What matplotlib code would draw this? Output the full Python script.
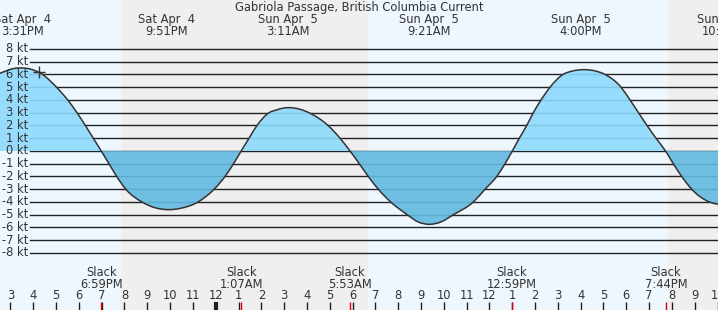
import matplotlib
matplotlib.use("Agg")
import matplotlib.pyplot as plt
from matplotlib.path import Path
from matplotlib.patches import PathPatch

# ---- data (hours after midnight, Sat Apr 4) ----
curve_hours = [14.544, 14.836, 15.128, 15.509, 15.859, 16.268, 16.407, 17.021, 17.512, 17.920,
               18.284, 18.634, 18.981,
               19.323, 19.660, 20.060, 20.769, 21.339, 21.909, 22.479, 23.224, 23.930, 24.408,
               24.781, 25.118,
               25.460, 25.811, 26.337, 26.688, 26.951, 27.183, 27.433, 27.696, 28.091, 28.924,
               29.450, 29.888,
               30.296, 30.690, 31.129, 31.672, 32.400, 32.869, 33.365, 33.878, 34.417, 35.294,
               35.807, 36.320, 36.683, 37.003,
               37.310, 37.635, 37.924, 38.262, 38.656, 39.226, 39.665, 40.147, 40.629, 41.068,
               41.769, 42.164, 42.536, 42.909, 43.303, 43.720,
               44.062, 44.430, 44.868, 45.640, 46.021]
curve_knots = [6.09, 6.30, 6.46, 6.51, 6.43, 6.15, 6.00, 5.00, 4.00, 3.00,
               2.00, 1.00, 0.00,
               -1.00, -2.00, -3.00, -4.00, -4.45, -4.60, -4.49, -4.00, -3.00, -2.00,
               -1.00, 0.00,
               1.00, 2.00, 3.00, 3.23, 3.36, 3.40, 3.37, 3.27, 3.00, 2.00,
               1.00, 0.00,
               -1.00, -2.00, -3.00, -4.00, -5.00, -5.56, -5.75, -5.56, -5.00, -4.00,
               -3.00, -2.00, -1.00, 0.00,
               1.00, 2.00, 3.00, 4.00, 5.00, 6.00, 6.28, 6.38, 6.28, 6.00,
               5.00, 4.00, 3.00, 2.00, 1.00, 0.00,
               -1.00, -2.00, -3.00, -4.00, -4.18]

event_hours = [15.517, 21.850, 27.183, 33.350, 40.000, 46.417]
event_dates = ["Sat Apr  4", "Sat Apr  4", "Sun Apr  5", "Sun Apr  5", "Sun Apr  5", "Sun Apr  5"]
event_times = ["3:31PM", "9:51PM", "3:11AM", "9:21AM", "4:00PM", "10:25PM"]

slack_hours = [18.983, 25.117, 29.883, 36.983, 43.733]
slack_times = ["6:59PM", "1:07AM", "5:53AM", "12:59PM", "7:44PM"]

marker_hour = 16.25
marker_knots = 6.17

hour_ticks = list(range(15, 47))
hour_labels = [str((h % 12) or 12) for h in hour_ticks]
midnight = 24

daylight = [(14.544, 19.849), (30.664, 43.840)]
night = [(19.849, 30.664), (43.840, 46.030)]

knot_levels = list(range(-8, 9))
title = "Gabriola Passage, British Columbia Current"

# ---- figure ----
W, H = 718, 310
fig = plt.figure(figsize=(W / 100, H / 100), dpi=100)
ax = fig.add_axes([0, 0, 1, 1])
ax.set_xlim(14.544, 46.020)
ax.set_ylim(-12.47, 11.84)
ax.axis("off")

day_c = "#eef7fe"
night_c = "#efefef"
pos_c = "#8ed9fd"
neg_c = "#62b9e0"
txt_c = "#333333"
fs = 8.3

for a, b in daylight:
    ax.axvspan(a, b, color=day_c, lw=0, zorder=0)
for a, b in night:
    ax.axvspan(a, b, color=night_c, lw=0, zorder=0)

for k in knot_levels:
    ax.axhline(k, xmin=30 / W, xmax=1, color="#222222", lw=1.0, zorder=1)
    ax.text(28 / W, k, f"{k} kt", transform=ax.get_yaxis_transform(),
            ha="right", va="center", fontsize=fs, color=txt_c, zorder=5)

# smooth (cubic Bezier) rendering through the read points
xs, ys = curve_hours, curve_knots
n = len(xs)
slopes = []
for i in range(n):
    if i == 0:
        slopes.append((ys[1] - ys[0]) / (xs[1] - xs[0]))
    elif i == n - 1:
        slopes.append((ys[-1] - ys[-2]) / (xs[-1] - xs[-2]))
    else:
        h0 = xs[i] - xs[i - 1]
        h1 = xs[i + 1] - xs[i]
        d0 = (ys[i] - ys[i - 1]) / h0
        d1 = (ys[i + 1] - ys[i]) / h1
        slopes.append((h1 * d0 + h0 * d1) / (h0 + h1))


def curve_part(i0, i1):
    verts = [(xs[i0], ys[i0])]
    codes = [Path.MOVETO]
    for i in range(i0, i1):
        d = (xs[i + 1] - xs[i]) / 3.0
        verts += [(xs[i] + d, ys[i] + slopes[i] * d),
                  (xs[i + 1] - d, ys[i + 1] - slopes[i + 1] * d),
                  (xs[i + 1], ys[i + 1])]
        codes += [Path.CURVE4] * 3
    return verts, codes


zero_idx = [i for i, v in enumerate(ys) if v == 0]
bounds = [0] + zero_idx + [n - 1]
for i0, i1 in zip(bounds[:-1], bounds[1:]):
    if i1 <= i0:
        continue
    v, c = curve_part(i0, i1)
    v = v + [(xs[i1], 0), (xs[i0], 0), (xs[i0], 0)]
    c = c + [Path.LINETO, Path.LINETO, Path.CLOSEPOLY]
    mid = ys[(i0 + i1) // 2]
    col = pos_c if mid > 0 else neg_c
    ax.add_patch(PathPatch(Path(v, c), facecolor=col, edgecolor="none", alpha=0.9, zorder=2))

v, c = curve_part(0, n - 1)
ax.add_patch(PathPatch(Path(v, c), facecolor="none", edgecolor="#333333", lw=1.1, zorder=3))
ax.plot([marker_hour], [marker_knots], marker="+", ms=8, mew=1.0, color="#333333", zorder=4)

tx = ax.get_xaxis_transform()
ax.text(0.5, 1 - 8 / H, title, transform=ax.transAxes, ha="center", va="center",
        fontsize=fs, color=txt_c)
for h, d, t in zip(event_hours, event_dates, event_times):
    ax.text(h, 1 - 20 / H, d, transform=tx, ha="center", va="center", fontsize=fs, color=txt_c)
    ax.text(h, 1 - 31.5 / H, t, transform=tx, ha="center", va="center", fontsize=fs, color=txt_c)

for h, t in zip(slack_hours, slack_times):
    ax.text(h, 1 - 272 / H, "Slack", transform=tx, ha="center", va="center", fontsize=fs, color=txt_c)
    ax.text(h, 1 - 284 / H, t, transform=tx, ha="center", va="center", fontsize=fs, color=txt_c)

for h, lab in zip(hour_ticks, hour_labels):
    ax.text(h, 1 - 295.5 / H, lab, transform=tx, ha="center", va="center", fontsize=fs, color=txt_c)
ax.vlines([h for h in hour_ticks if h != midnight], 0, 8.5 / H, transform=tx,
          color="#222222", lw=1.0, zorder=4)
ax.vlines([midnight], 0, 8.5 / H, transform=tx, color="#222222", lw=3.0, zorder=4)
ax.vlines(slack_hours, 0, 8.5 / H, transform=tx, color="#dd0000", lw=1.0, zorder=4)

fig.savefig("out.png", dpi=100)
